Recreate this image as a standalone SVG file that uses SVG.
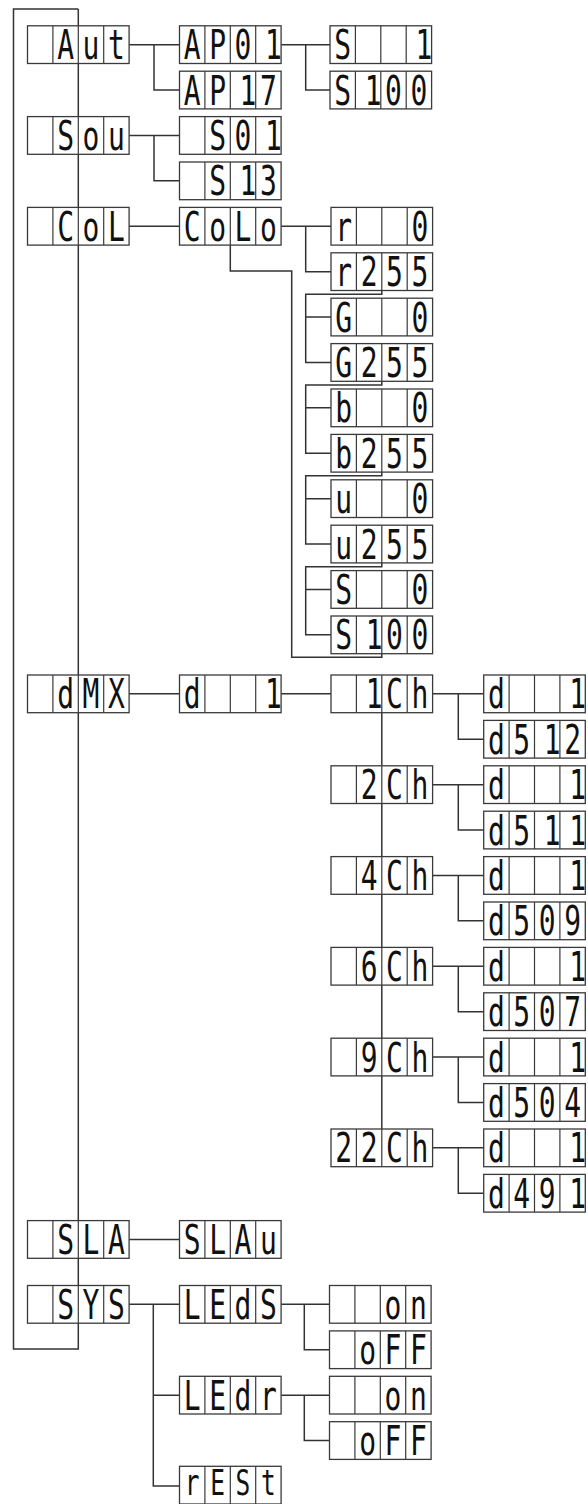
<svg xmlns="http://www.w3.org/2000/svg" xmlns:xlink="http://www.w3.org/1999/xlink" width="588" height="1504" viewBox="0 0 588 1504">
<style>
.bx{fill:#fff;stroke:#3a3a3a;stroke-width:1.3}
.dv{fill:none;stroke:#3a3a3a;stroke-width:1.2}
.cn{fill:none;stroke:#333;stroke-width:1.5}
.t{font-family:"DejaVu Sans Mono","Liberation Mono",monospace;font-size:40px;fill:#111;text-anchor:middle}
.ts{font-size:35px}
</style>
<defs>
<g id="bx"><rect class="bx" x="0" y="0" width="101.6" height="37.7"/><path class="dv" d="M25.4,0V37.7M50.8,0V37.7M76.2,0V37.7"/></g>
</defs>
<g id="connectors">
<path class="cn" d="M78.3,9H13.5V1349H78.3V9"/>
<path class="cn" d="M129.1,44.65H179.5M154,44.65V90.05H179.5"/>
<path class="cn" d="M281.1,44.65H330M305.7,44.65V90.05H330"/>
<path class="cn" d="M129.1,135.45H179.5M154,135.45V180.85H179.5"/>
<path class="cn" d="M129.1,226.25H179.5"/>
<path class="cn" d="M281.1,226.25H331M305.7,226.25V271.65H331"/>
<path class="cn" d="M230.3,245.1V271H291.7V657.3H381.8V653.7"/>
<path class="cn" d="M381.8,290.5V294.3H305.7V362.45H331M305.7,317.05H331"/>
<path class="cn" d="M381.8,381.3V385H305.7V453.25H331M305.7,407.85H331"/>
<path class="cn" d="M381.8,472.1V475.7H305.7V544.05H331M305.7,498.65H331"/>
<path class="cn" d="M381.8,562.9V566.7H305.7V634.85H331M305.7,589.45H331"/>
<path class="cn" d="M129.1,693.85H179.5"/>
<path class="cn" d="M281.1,693.85H331"/>
<path class="cn" d="M381.8,712.7V1129"/>
<path class="cn" d="M432.6,693.85H483.7M458.3,693.85V739.25H483.7"/>
<path class="cn" d="M432.6,784.65H483.7M458.3,784.65V830.05H483.7"/>
<path class="cn" d="M432.6,875.45H483.7M458.3,875.45V920.85H483.7"/>
<path class="cn" d="M432.6,966.25H483.7M458.3,966.25V1011.65H483.7"/>
<path class="cn" d="M432.6,1057.05H483.7M458.3,1057.05V1102.45H483.7"/>
<path class="cn" d="M432.6,1147.85H483.7M458.3,1147.85V1193.25H483.7"/>
<path class="cn" d="M129.1,1239.45H179.5"/>
<path class="cn" d="M129.1,1304.35H179.5M153.3,1304.35V1485.95H179.5M153.3,1395.15H179.5"/>
<path class="cn" d="M281.1,1304.35H329.5M304.3,1304.35V1349.75H329.5"/>
<path class="cn" d="M281.1,1395.15H329.5M304.3,1395.15V1440.55H329.5"/>
</g>
<g id="aut" transform="translate(27.5,25.8)"><use xlink:href="#bx"/><text class="t" transform="scale(.7 1)" x="54.43 90.71 127" y="33.3">Aut</text></g>
<g id="ap01" transform="translate(179.5,25.8)"><use xlink:href="#bx"/><text class="t" transform="scale(.7 1)" x="18.14 54.43 90.71 134.1" y="33.3">AP01</text></g>
<g id="s1" transform="translate(330,25.8)"><use xlink:href="#bx"/><text class="t" transform="scale(.7 1)" x="18.14 134.1" y="33.3">S1</text></g>
<g id="ap17" transform="translate(179.5,71.2)"><use xlink:href="#bx"/><text class="t" transform="scale(.7 1)" x="18.14 54.43 97.9 127" y="33.3">AP17</text></g>
<g id="s100a" transform="translate(330,71.2)"><use xlink:href="#bx"/><text class="t" transform="scale(.7 1)" x="18.14 61.6 90.71 127" y="33.3">S100</text></g>
<g id="sou" transform="translate(27.5,116.6)"><use xlink:href="#bx"/><text class="t" transform="scale(.7 1)" x="54.43 90.71 127" y="33.3">Sou</text></g>
<g id="s01" transform="translate(179.5,116.6)"><use xlink:href="#bx"/><text class="t" transform="scale(.7 1)" x="54.43 90.71 134.1" y="33.3">S01</text></g>
<g id="s13" transform="translate(179.5,162)"><use xlink:href="#bx"/><text class="t" transform="scale(.7 1)" x="54.43 97.9 127" y="33.3">S13</text></g>
<g id="col" transform="translate(27.5,207.4)"><use xlink:href="#bx"/><text class="t" transform="scale(.7 1)" x="54.43 90.71 127" y="33.3">CoL</text></g>
<g id="colo" transform="translate(179.5,207.4)"><use xlink:href="#bx"/><text class="t" transform="scale(.7 1)" x="18.14 54.43 90.71 127" y="33.3">CoLo</text></g>
<g id="r0" transform="translate(331,207.4)"><use xlink:href="#bx"/><text class="t" transform="scale(.7 1)" x="18.14 127" y="33.3">r0</text></g>
<g id="r255" transform="translate(331,252.8)"><use xlink:href="#bx"/><text class="t" transform="scale(.7 1)" x="18.14 54.43 90.71 127" y="33.3">r255</text></g>
<g id="g0" transform="translate(331,298.2)"><use xlink:href="#bx"/><text class="t" transform="scale(.7 1)" x="18.14 127" y="33.3">G0</text></g>
<g id="g255" transform="translate(331,343.6)"><use xlink:href="#bx"/><text class="t" transform="scale(.7 1)" x="18.14 54.43 90.71 127" y="33.3">G255</text></g>
<g id="b0" transform="translate(331,389)"><use xlink:href="#bx"/><text class="t" transform="scale(.7 1)" x="18.14 127" y="33.3">b0</text></g>
<g id="b255" transform="translate(331,434.4)"><use xlink:href="#bx"/><text class="t" transform="scale(.7 1)" x="18.14 54.43 90.71 127" y="33.3">b255</text></g>
<g id="u0" transform="translate(331,479.8)"><use xlink:href="#bx"/><text class="t" transform="scale(.7 1)" x="18.14 127" y="33.3">u0</text></g>
<g id="u255" transform="translate(331,525.2)"><use xlink:href="#bx"/><text class="t" transform="scale(.7 1)" x="18.14 54.43 90.71 127" y="33.3">u255</text></g>
<g id="st0" transform="translate(331,570.6)"><use xlink:href="#bx"/><text class="t" transform="scale(.7 1)" x="18.14 127" y="33.3">S0</text></g>
<g id="st100" transform="translate(331,616)"><use xlink:href="#bx"/><text class="t" transform="scale(.7 1)" x="18.14 61.6 90.71 127" y="33.3">S100</text></g>
<g id="dmx" transform="translate(27.5,675)"><use xlink:href="#bx"/><text class="t" transform="scale(.7 1)" x="54.43 90.71 127" y="33.3">dMX</text></g>
<g id="d1" transform="translate(179.5,675)"><use xlink:href="#bx"/><text class="t" transform="scale(.7 1)" x="18.14 134.1" y="33.3">d1</text></g>
<g id="ch1" transform="translate(331,675)"><use xlink:href="#bx"/><text class="t" transform="scale(.7 1)" x="61.6 90.71 127" y="33.3">1Ch</text></g>
<g id="ch1-d1" transform="translate(483.7,675)"><use xlink:href="#bx"/><text class="t" transform="scale(.7 1)" x="18.14 134.1" y="33.3">d1</text></g>
<g id="d512" transform="translate(483.7,720.4)"><use xlink:href="#bx"/><text class="t" transform="scale(.7 1)" x="18.14 54.43 97.9 127" y="33.3">d512</text></g>
<g id="ch2" transform="translate(331,765.8)"><use xlink:href="#bx"/><text class="t" transform="scale(.7 1)" x="54.43 90.71 127" y="33.3">2Ch</text></g>
<g id="ch2-d1" transform="translate(483.7,765.8)"><use xlink:href="#bx"/><text class="t" transform="scale(.7 1)" x="18.14 134.1" y="33.3">d1</text></g>
<g id="d511" transform="translate(483.7,811.2)"><use xlink:href="#bx"/><text class="t" transform="scale(.7 1)" x="18.14 54.43 97.9 134.1" y="33.3">d511</text></g>
<g id="ch4" transform="translate(331,856.6)"><use xlink:href="#bx"/><text class="t" transform="scale(.7 1)" x="54.43 90.71 127" y="33.3">4Ch</text></g>
<g id="ch4-d1" transform="translate(483.7,856.6)"><use xlink:href="#bx"/><text class="t" transform="scale(.7 1)" x="18.14 134.1" y="33.3">d1</text></g>
<g id="d509" transform="translate(483.7,902)"><use xlink:href="#bx"/><text class="t" transform="scale(.7 1)" x="18.14 54.43 90.71 127" y="33.3">d509</text></g>
<g id="ch6" transform="translate(331,947.4)"><use xlink:href="#bx"/><text class="t" transform="scale(.7 1)" x="54.43 90.71 127" y="33.3">6Ch</text></g>
<g id="ch6-d1" transform="translate(483.7,947.4)"><use xlink:href="#bx"/><text class="t" transform="scale(.7 1)" x="18.14 134.1" y="33.3">d1</text></g>
<g id="d507" transform="translate(483.7,992.8)"><use xlink:href="#bx"/><text class="t" transform="scale(.7 1)" x="18.14 54.43 90.71 127" y="33.3">d507</text></g>
<g id="ch9" transform="translate(331,1038.2)"><use xlink:href="#bx"/><text class="t" transform="scale(.7 1)" x="54.43 90.71 127" y="33.3">9Ch</text></g>
<g id="ch9-d1" transform="translate(483.7,1038.2)"><use xlink:href="#bx"/><text class="t" transform="scale(.7 1)" x="18.14 134.1" y="33.3">d1</text></g>
<g id="d504" transform="translate(483.7,1083.6)"><use xlink:href="#bx"/><text class="t" transform="scale(.7 1)" x="18.14 54.43 90.71 127" y="33.3">d504</text></g>
<g id="ch22" transform="translate(331,1129)"><use xlink:href="#bx"/><text class="t" transform="scale(.7 1)" x="18.14 54.43 90.71 127" y="33.3">22Ch</text></g>
<g id="ch22-d1" transform="translate(483.7,1129)"><use xlink:href="#bx"/><text class="t" transform="scale(.7 1)" x="18.14 134.1" y="33.3">d1</text></g>
<g id="d491" transform="translate(483.7,1174.4)"><use xlink:href="#bx"/><text class="t" transform="scale(.7 1)" x="18.14 54.43 90.71 134.1" y="33.3">d491</text></g>
<g id="sla" transform="translate(27.5,1220.6)"><use xlink:href="#bx"/><text class="t" transform="scale(.7 1)" x="54.43 90.71 127" y="33.3">SLA</text></g>
<g id="slau" transform="translate(179.5,1220.6)"><use xlink:href="#bx"/><text class="t" transform="scale(.7 1)" x="18.14 54.43 90.71 127" y="33.3">SLAu</text></g>
<g id="sys" transform="translate(27.5,1285.5)"><use xlink:href="#bx"/><text class="t" transform="scale(.7 1)" x="54.43 90.71 127" y="33.3">SYS</text></g>
<g id="leds" transform="translate(179.5,1285.5)"><use xlink:href="#bx"/><text class="t" transform="scale(.7 1)" x="18.14 54.43 90.71 127" y="33.3">LEdS</text></g>
<g id="leds-on" transform="translate(329.5,1285.5)"><use xlink:href="#bx"/><text class="t" transform="scale(.7 1)" x="90.71 127" y="33.3">on</text></g>
<g id="leds-off" transform="translate(329.5,1330.9)"><use xlink:href="#bx"/><text class="t" transform="scale(.7 1)" x="54.43 90.71 127" y="33.3">oFF</text></g>
<g id="ledr" transform="translate(179.5,1376.3)"><use xlink:href="#bx"/><text class="t" transform="scale(.7 1)" x="18.14 54.43 90.71 127" y="33.3">LEdr</text></g>
<g id="ledr-on" transform="translate(329.5,1376.3)"><use xlink:href="#bx"/><text class="t" transform="scale(.7 1)" x="90.71 127" y="33.3">on</text></g>
<g id="ledr-off" transform="translate(329.5,1421.7)"><use xlink:href="#bx"/><text class="t" transform="scale(.7 1)" x="54.43 90.71 127" y="33.3">oFF</text></g>
<g id="rest" transform="translate(179.5,1466.3)"><use xlink:href="#bx"/><text class="t ts" transform="scale(.7 1)" x="18.14 54.43 90.71 127" y="29">rESt</text></g>
</svg>
